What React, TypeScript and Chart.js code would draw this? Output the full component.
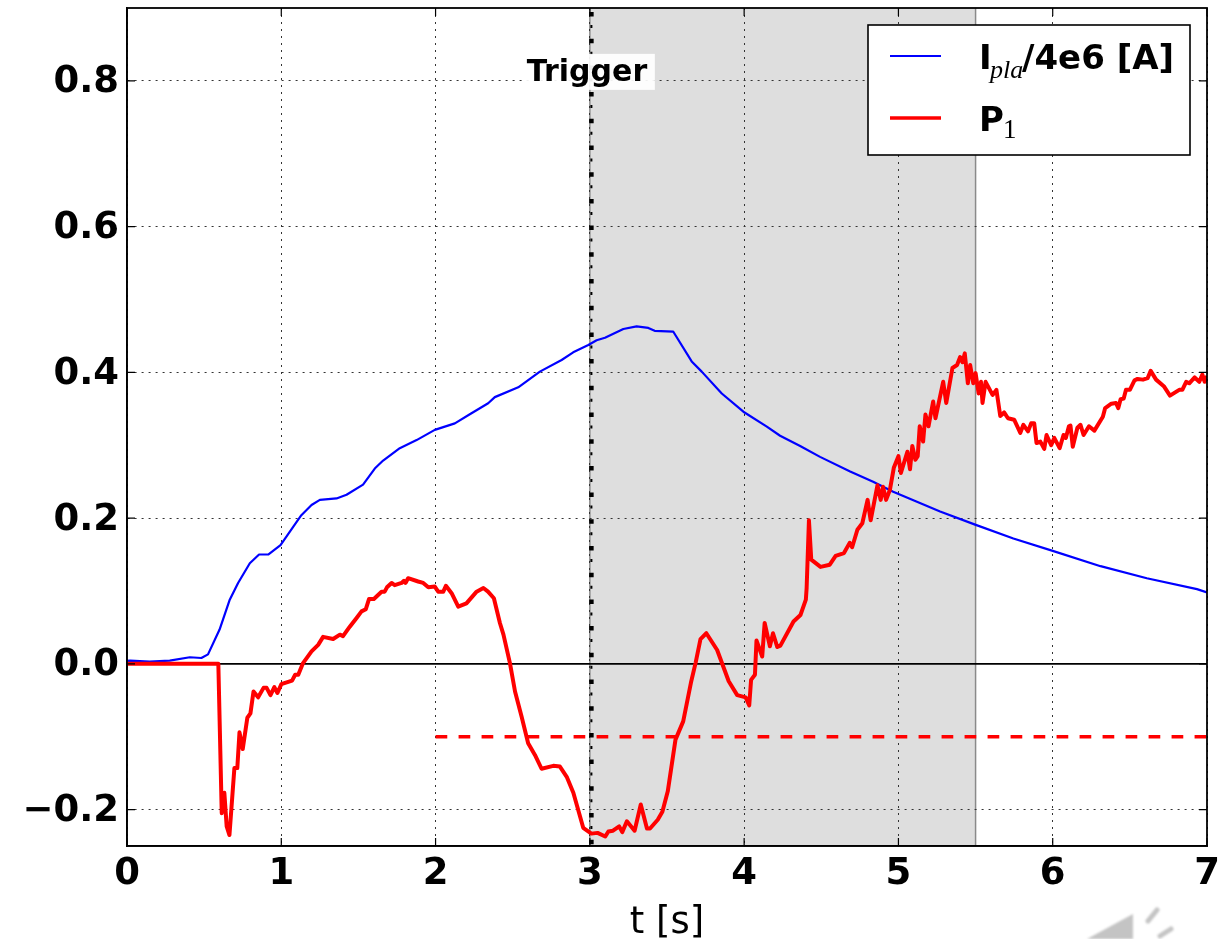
import React, { useEffect, useRef } from "react";
import { Chart, registerables } from "chart.js";

Chart.register(...registerables);

const xTicks = [0, 1, 2, 3, 4, 5, 6, 7];
const yTicks = [-0.2, 0, 0.2, 0.4, 0.6, 0.8];

const ipTime = [0, 0.02, 0.147, 0.277, 0.407, 0.482, 0.525, 0.6, 0.666, 0.72, 0.796, 0.856, 0.915, 0.995, 1.077, 1.13, 1.196, 1.25, 1.358, 1.423, 1.53, 1.606, 1.66, 1.768, 1.877, 1.995, 2.125, 2.222, 2.341, 2.384, 2.536, 2.676, 2.817, 2.892, 2.99, 3.044, 3.098, 3.217, 3.303, 3.379, 3.42, 3.54, 3.66, 3.725, 3.855, 3.995, 4.147, 4.233, 4.363, 4.492, 4.687, 4.836, 4.966, 5.27, 5.497, 5.745, 6.0, 6.31, 6.61, 6.935, 7.0];
const ipValue = [0.004, 0.0045, 0.003, 0.0045, 0.009, 0.008, 0.013, 0.047, 0.088, 0.111, 0.138, 0.15, 0.15, 0.163, 0.188, 0.204, 0.218, 0.225, 0.227, 0.232, 0.246, 0.268, 0.279, 0.296, 0.307, 0.321, 0.33, 0.3425, 0.3575, 0.366, 0.3795, 0.401, 0.417, 0.4275, 0.4375, 0.444, 0.4475, 0.4595, 0.463, 0.461, 0.457, 0.456, 0.415, 0.401, 0.371, 0.346, 0.3255, 0.313, 0.299, 0.284, 0.264, 0.25, 0.236, 0.209, 0.191, 0.172, 0.155, 0.134, 0.1175, 0.1025, 0.098];

const p1Time = [0, 0.592, 0.614, 0.631, 0.646, 0.664, 0.696, 0.715, 0.729, 0.75, 0.78, 0.8, 0.82, 0.85, 0.885, 0.905, 0.93, 0.955, 0.975, 1.0, 1.07, 1.09, 1.11, 1.141, 1.196, 1.239, 1.271, 1.336, 1.38, 1.40, 1.444, 1.488, 1.52, 1.548, 1.569, 1.6, 1.65, 1.67, 1.685, 1.715, 1.735, 1.78, 1.795, 1.805, 1.822, 1.887, 1.92, 1.953, 1.995, 2.017, 2.05, 2.067, 2.104, 2.147, 2.2, 2.266, 2.31, 2.34, 2.378, 2.417, 2.44, 2.482, 2.515, 2.557, 2.6, 2.644, 2.687, 2.763, 2.806, 2.85, 2.893, 2.957, 3.01, 3.05, 3.1, 3.12, 3.15, 3.19, 3.21, 3.24, 3.29, 3.33, 3.37, 3.39, 3.44, 3.47, 3.505, 3.555, 3.605, 3.655, 3.685, 3.717, 3.755, 3.825, 3.9, 3.955, 4.01, 4.033, 4.045, 4.07, 4.08, 4.117, 4.133, 4.167, 4.187, 4.215, 4.235, 4.32, 4.365, 4.4, 4.405, 4.42, 4.435, 4.495, 4.555, 4.593, 4.647, 4.684, 4.7, 4.734, 4.766, 4.8, 4.82, 4.864, 4.885, 4.9, 4.92, 4.945, 4.97, 5.0, 5.016, 5.058, 5.075, 5.09, 5.11, 5.125, 5.138, 5.16, 5.175, 5.195, 5.225, 5.24, 5.29, 5.31, 5.35, 5.38, 5.4, 5.415, 5.43, 5.45, 5.465, 5.485, 5.5, 5.52, 5.535, 5.545, 5.565, 5.61, 5.635, 5.66, 5.685, 5.71, 5.75, 5.79, 5.81, 5.84, 5.86, 5.88, 5.895, 5.92, 5.945, 5.96, 5.99, 6.01, 6.045, 6.07, 6.085, 6.105, 6.115, 6.13, 6.16, 6.18, 6.2, 6.235, 6.27, 6.325, 6.34, 6.38, 6.41, 6.425, 6.44, 6.46, 6.475, 6.5, 6.53, 6.55, 6.585, 6.615, 6.635, 6.67, 6.72, 6.76, 6.82, 6.84, 6.865, 6.885, 6.92, 6.95, 6.97, 6.985, 7.0];
const p1Value = [0, 0, -0.205, -0.177, -0.223, -0.235, -0.143, -0.143, -0.094, -0.117, -0.074, -0.068, -0.038, -0.046, -0.033, -0.033, -0.043, -0.032, -0.04, -0.028, -0.023, -0.015, -0.015, 0.001, 0.017, 0.026, 0.037, 0.034, 0.04, 0.038, 0.051, 0.063, 0.072, 0.075, 0.089, 0.089, 0.099, 0.099, 0.105, 0.111, 0.108, 0.111, 0.114, 0.111, 0.1175, 0.113, 0.111, 0.105, 0.106, 0.099, 0.099, 0.107, 0.097, 0.0785, 0.083, 0.099, 0.104, 0.099, 0.09, 0.056, 0.04, 0.001, -0.038, -0.072, -0.109, -0.125, -0.144, -0.14, -0.141, -0.155, -0.177, -0.225, -0.233, -0.232, -0.237, -0.23, -0.229, -0.223, -0.231, -0.216, -0.229, -0.193, -0.226, -0.226, -0.214, -0.203, -0.175, -0.104, -0.079, -0.026, 0.001, 0.034, 0.042, 0.019, -0.024, -0.043, -0.046, -0.057, -0.022, -0.015, 0.032, 0.01, 0.056, 0.024, 0.042, 0.023, 0.025, 0.058, 0.067, 0.088, 0.104, 0.197, 0.143, 0.133, 0.136, 0.148, 0.152, 0.166, 0.16, 0.184, 0.193, 0.225, 0.197, 0.245, 0.225, 0.243, 0.225, 0.239, 0.269, 0.285, 0.262, 0.291, 0.267, 0.299, 0.28, 0.285, 0.326, 0.305, 0.342, 0.326, 0.36, 0.337, 0.387, 0.358, 0.406, 0.41, 0.421, 0.414, 0.426, 0.385, 0.41, 0.385, 0.399, 0.371, 0.387, 0.358, 0.387, 0.369, 0.376, 0.34, 0.345, 0.337, 0.335, 0.317, 0.328, 0.319, 0.33, 0.33, 0.303, 0.305, 0.295, 0.314, 0.3, 0.31, 0.296, 0.314, 0.31, 0.326, 0.327, 0.298, 0.324, 0.328, 0.314, 0.326, 0.32, 0.339, 0.351, 0.357, 0.358, 0.351, 0.363, 0.364, 0.376, 0.376, 0.389, 0.391, 0.39, 0.392, 0.402, 0.39, 0.381, 0.368, 0.376, 0.376, 0.387, 0.385, 0.393, 0.387, 0.397, 0.387, 0.395];

const thresholdTime = [2, 7];
const thresholdValue = [-0.1, -0.1];
const zeroTime = [0, 7];
const zeroValue = [0, 0];
const triggerTime = [3.01, 3.01];
const triggerValue = [0.9, -0.25];
const shadeStart = 3.0;
const shadeEnd = 5.5;
const triggerLabel = "Trigger";
const xTitle = "t [s]";

const zip = (xs: number[], ys: number[]) => xs.map((x, i) => ({ x, y: ys[i] }));

const BOLD = '"DejaVu Sans"';

const underlay = {
  id: "underlay",
  beforeDraw(chart: any) {
    const { ctx, chartArea: a, scales } = chart;
    const x0 = scales.x.getPixelForValue(shadeStart);
    const x1 = scales.x.getPixelForValue(shadeEnd);
    ctx.save();
    ctx.fillStyle = "#dedede";
    ctx.fillRect(x0, a.top, x1 - x0, a.bottom - a.top);
    ctx.strokeStyle = "#8a8a8a";
    ctx.lineWidth = 1.5;
    ctx.beginPath();
    ctx.moveTo(x1, a.top);
    ctx.lineTo(x1, a.bottom);
    ctx.moveTo(x0, a.top);
    ctx.lineTo(x0, a.bottom);
    ctx.stroke();
    ctx.restore();
  },
};

const overlay = {
  id: "overlay",
  afterDraw(chart: any) {
    const { ctx, chartArea: a, scales } = chart;
    ctx.save();
    // inward ticks
    ctx.strokeStyle = "#000";
    ctx.lineWidth = 1.2;
    ctx.beginPath();
    for (const t of xTicks) {
      const p = scales.x.getPixelForValue(t);
      ctx.moveTo(p, a.top); ctx.lineTo(p, a.top + 8);
      ctx.moveTo(p, a.bottom); ctx.lineTo(p, a.bottom - 8);
    }
    for (const t of yTicks) {
      const p = scales.y.getPixelForValue(t);
      ctx.moveTo(a.left, p); ctx.lineTo(a.left + 8, p);
      ctx.moveTo(a.right, p); ctx.lineTo(a.right - 8, p);
    }
    ctx.stroke();

    // trigger label
    const tx = scales.x.getPixelForValue(shadeStart);
    const ty = scales.y.getPixelForValue(0.8);
    ctx.font = `bold 30px ${BOLD}`;
    ctx.fillStyle = "rgba(255,255,255,0.92)";
    ctx.fillRect(tx - 67, ty - 27, 132, 36);
    ctx.fillStyle = "#000";
    ctx.textAlign = "left";
    ctx.textBaseline = "alphabetic";
    ctx.fillText(triggerLabel, tx - 63, ty + 0);

    // legend
    ctx.fillStyle = "#fff";
    ctx.fillRect(868, 25, 322, 130);
    ctx.strokeStyle = "#000";
    ctx.lineWidth = 1.6;
    ctx.strokeRect(868, 25, 322, 130);
    ctx.strokeStyle = "#0000ff";
    ctx.lineWidth = 1.8;
    ctx.beginPath(); ctx.moveTo(890, 56); ctx.lineTo(941, 56); ctx.stroke();
    ctx.strokeStyle = "#ff0000";
    ctx.lineWidth = 3.5;
    ctx.beginPath(); ctx.moveTo(890, 118); ctx.lineTo(941, 118); ctx.stroke();
    ctx.fillStyle = "#000";
    ctx.font = `bold 34px ${BOLD}`;
    ctx.fillText("I", 979, 69);
    ctx.font = 'italic 26px "Liberation Serif"';
    ctx.fillText("pla", 990, 78);
    ctx.font = `bold 34px ${BOLD}`;
    ctx.fillText("/4e6 [A]", 1022, 69);
    ctx.fillText("P", 979, 131);
    ctx.font = '27px "Liberation Serif"';
    ctx.fillText("1", 1003, 138);
    ctx.restore();
  },
};

export default function App() {
  const ref = useRef<HTMLCanvasElement | null>(null);
  useEffect(() => {
    if (!ref.current) return;
    const line = (xs: number[], ys: number[], color: string, width: number, extra: any = {}) => ({
      type: "line",
      data: zip(xs, ys),
      borderColor: color,
      backgroundColor: color,
      borderWidth: width,
      pointRadius: 0,
      tension: 0,
      fill: false,
      borderJoinStyle: "round",
      ...extra,
    });
    const chart = new Chart(ref.current, {
      type: "line",
      data: {
        datasets: [
          line(triggerTime, triggerValue, "#000", 2, { label: "trigger guide", borderDash: [3, 23.7], borderDashOffset: -17, order: 6 }),
          line(triggerTime, triggerValue, "#000", 4.5, { label: "Trigger", borderDash: [4.5, 22.2], borderDashOffset: -4, order: 5 }),
          line(zeroTime, zeroValue, "#000", 1.6, { label: "zero", order: 4 }),
          line(ipTime, ipValue, "#0000ff", 2.2, { label: "Ipla/4e6 [A]", order: 2 }),
          line(thresholdTime, thresholdValue, "#ff0000", 3.6, { label: "threshold", borderDash: [11.7, 11.3], order: 3 }),
          line(p1Time, p1Value, "#ff0000", 4, { label: "P1", order: 1 }),
        ] as any,
      },
      options: {
        responsive: false,
        animation: false,
        layout: { padding: { left: 0, top: 8, right: 12, bottom: 0 } },
        plugins: { legend: { display: false }, tooltip: { enabled: false }, title: { display: false } },
        scales: {
          x: {
            type: "linear",
            min: 0,
            max: 7,
            afterBuildTicks: (s: any) => { s.ticks = xTicks.map((value) => ({ value })); },
            afterFit: (s: any) => { s.height = 93; s.paddingLeft = 0; s.paddingRight = 0; },
            ticks: { color: "#000", font: { family: "DejaVu Sans", weight: "bold", size: 37 }, padding: 6, maxRotation: 0, autoSkip: false, callback: (v: any) => String(v) },
            grid: { color: "#333", lineWidth: 1, tickLength: 0 },
            border: { color: "#000", width: 1.6, dash: [2, 5] },
            title: { display: true, text: xTitle, color: "#000", font: { family: "DejaVu Sans", size: 37 }, padding: { top: 0, bottom: -7 } },
          },
          y: {
            type: "linear",
            min: -0.25,
            max: 0.9,
            afterBuildTicks: (s: any) => { s.ticks = yTicks.map((value) => ({ value })); },
            afterFit: (s: any) => { s.width = 127; s.paddingTop = 0; s.paddingBottom = 0; },
            ticks: {
              color: "#000",
              font: { family: "DejaVu Sans", weight: "bold", size: 37 },
              padding: 8,
              labelOffset: 2,
              autoSkip: false,
              callback: (v: any) => (Number(v) < 0 ? "\u2212" + Math.abs(v).toFixed(1) : Number(v).toFixed(1)),
            },
            grid: { color: "#333", lineWidth: 1, tickLength: 0 },
            border: { color: "#000", width: 1.6, dash: [2, 5] },
          },
        },
      },
      plugins: [
        underlay,
        overlay,
        {
          id: "frame",
          afterDatasetsDraw(c: any) {
            const { ctx, chartArea: a } = c;
            ctx.save();
            ctx.strokeStyle = "#000";
            ctx.lineWidth = 1.8;
            ctx.strokeRect(a.left, a.top, a.right - a.left, a.bottom - a.top);
            ctx.restore();
          },
        },
      ],
    } as any);
    return () => chart.destroy();
  }, []);
  return (
    <div style={{ position: "absolute", left: 0, top: 0, width: 1219, height: 939, overflow: "hidden", background: "#fff" }}>
      <canvas ref={ref} width={1219} height={939} style={{ display: "block", filter: "blur(0.6px)" }} />
      <svg width={1219} height={939} style={{ position: "absolute", left: 0, top: 0, filter: "blur(0.8px)" }}>
        <path d="M1087 939 L1133 914 L1133 939 Z" fill="#c4c4c4" />
        <path d="M1148 921 L1157 910" stroke="#c4c4c4" strokeWidth={5} strokeLinecap="round" />
        <path d="M1160 936 L1171 929" stroke="#c4c4c4" strokeWidth={5} strokeLinecap="round" />
      </svg>
    </div>
  );
}
